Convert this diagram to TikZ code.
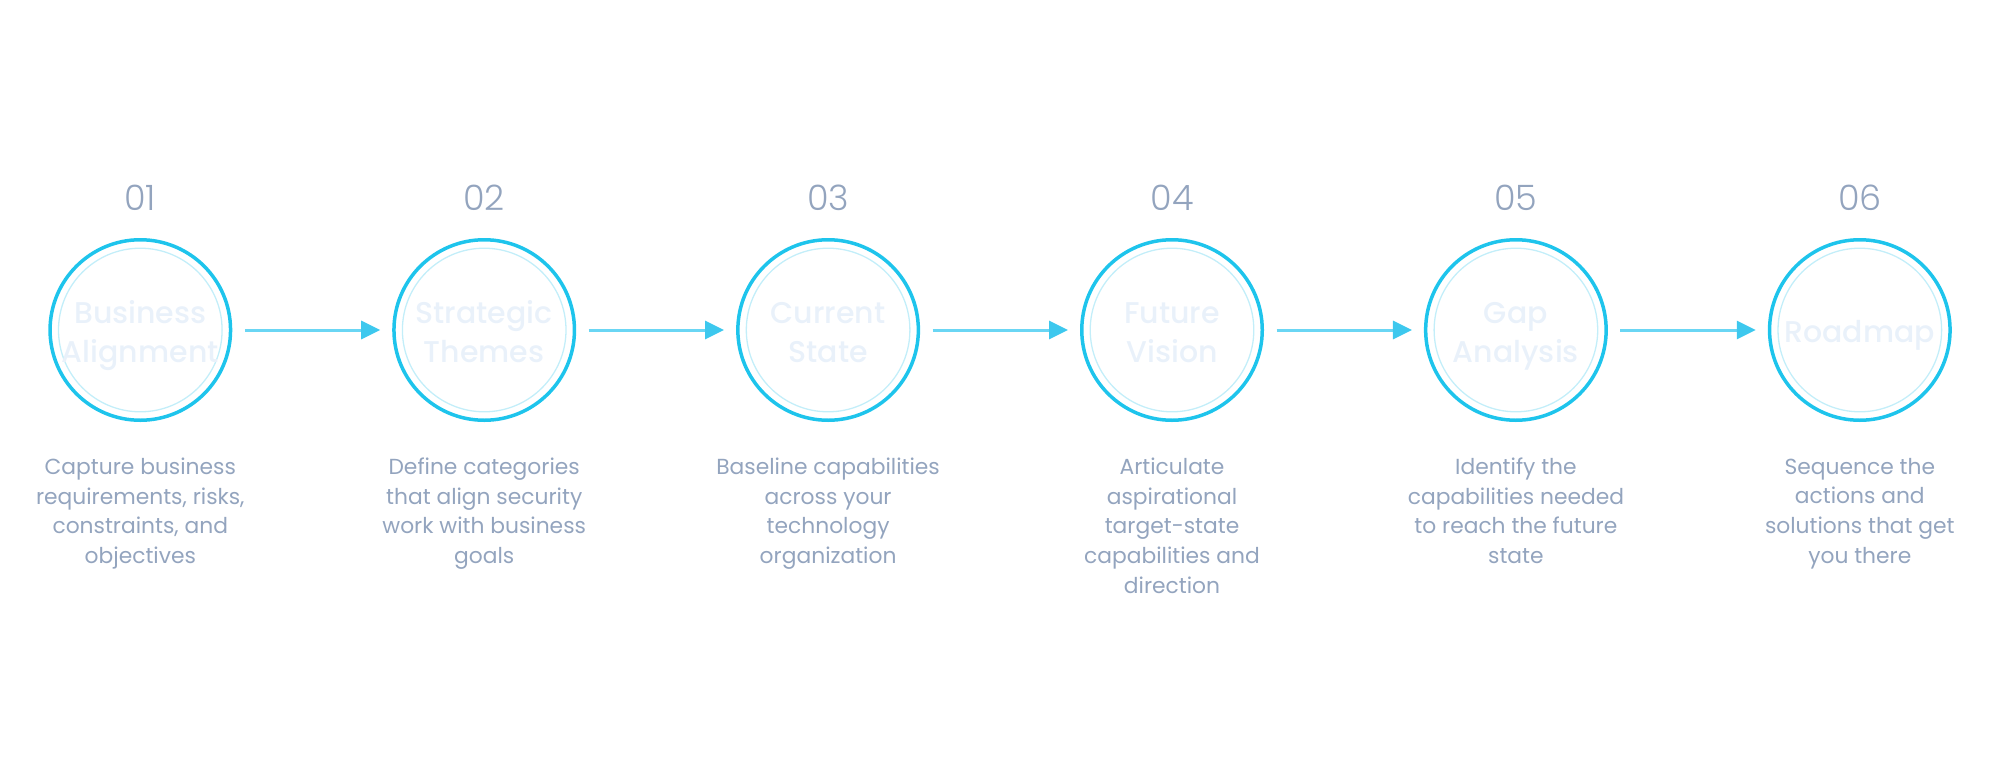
\documentclass[tikz,border=0pt]{standalone}
\usepackage{fontspec}
\setmainfont{Poppins}
\newfontfamily\numfont{Poppins Light}
\newfontfamily\titlefont{Poppins Medium}
\usetikzlibrary{arrows.meta}
\definecolor{ringc}{HTML}{1EC4EC}
\definecolor{innerc}{HTML}{C3EEF9}
\definecolor{titlec}{HTML}{E9F1FA}
\definecolor{textc}{HTML}{93A4BE}
\definecolor{arrowline}{HTML}{6AD6F4}
\definecolor{arrowhead}{HTML}{3DC8EE}
\tikzset{
  ring/.style={circle, draw=ringc, line width=1.75pt, minimum size=90.25pt, inner sep=0pt},
  innerring/.style={circle, draw=innerc, line width=0.65pt, minimum size=81.8pt, inner sep=0pt},
  titletext/.style={text=titlec, font=\titlefont\fontsize{15}{19.3}\selectfont, align=center, inner sep=0pt},
  numlabel/.style={text=textc, font=\numfont\fontsize{17.5}{20}\selectfont, inner sep=0pt},
  desc/.style={text=textc, font=\fontsize{10.9}{14.85}\selectfont, align=center, inner sep=0pt, anchor=north},
  flow/.style={draw=arrowline, line width=1.5pt, shorten <=6.25pt, shorten >=6pt,
    -{Triangle[length=9.5pt,width=9pt,color=arrowhead]}}
}
\begin{document}
\begin{tikzpicture}[x=0.5pt,y=-0.5pt]
\useasboundingbox (0,0) rectangle (2000,760);
\foreach \i/\x/\t/\d in {
  1/140.3/{\strut Business\\\strut Alignment}/{Capture business\\requirements, risks,\\constraints, and\\objectives},
  2/484.2/{\strut Strategic\\\strut Themes}/{Define categories\\that align security\\work with business\\goals},
  3/828.1/{\strut Current\\\strut State}/{Baseline capabilities\\across your\\technology\\organization},
  4/1172/{\strut Future\\\strut Vision}/{Articulate\\aspirational\\target-state\\capabilities and\\direction},
  5/1515.9/{\strut Gap\\\strut Analysis}/{Identify the\\capabilities needed\\to reach the future\\state},
  6/1859.8/{\strut Roadmap}/{Sequence the\\actions and\\solutions that get\\you there}}
{
  \node[ring] (c\i) at (\x,330) {};
  \node[innerring] (i\i) at (\x,330) {};
  \node[titletext] (t\i) at (\x,335) {\t};
  \node[numlabel] (n\i) at (\x,198) {0\i};
  \node[desc] (d\i) at (\x,457.5) {\d};
}
\foreach \a/\b in {1/2,2/3,3/4,4/5,5/6}
  \draw[flow] (c\a.east) -- (c\b.west);
\end{tikzpicture}
\end{document}
